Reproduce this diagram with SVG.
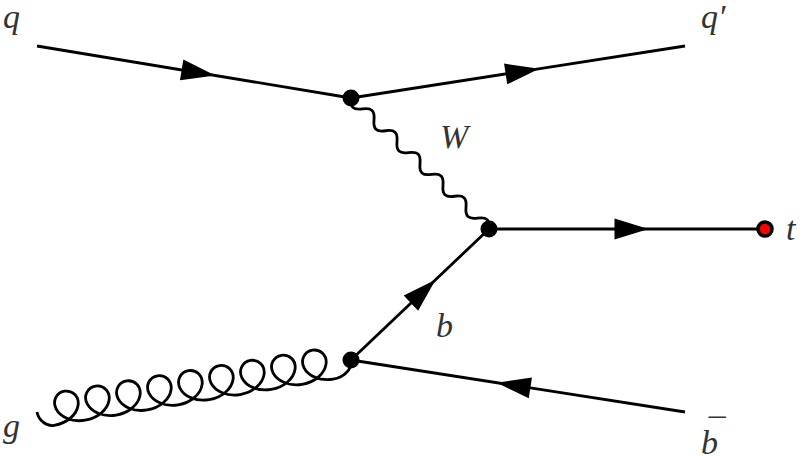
<svg xmlns="http://www.w3.org/2000/svg" xmlns:xlink="http://www.w3.org/1999/xlink" width="800" height="456" viewBox="0 0 800 456">
<defs>
<style>
.f{stroke:#000;stroke-width:2.8;fill:none;stroke-linecap:butt}
.w{stroke:#000;stroke-width:2.8;fill:none}
.v{fill:#000}
.lbl{font-family:'Liberation Serif','DejaVu Serif',serif;font-style:italic;font-size:34px;fill:#333}
</style>
<path id="arrow" d="M-12.5,-10.5 L21.5,0 L-12.5,10.5 Z" fill="#000"/>
</defs>
<rect width="800" height="456" fill="#fff"/>
<g id="connectors">
<line class="f" x1="37" y1="46" x2="351" y2="98"/>
<line class="f" x1="351" y1="98" x2="685" y2="46"/>
<line class="f" x1="489" y1="229" x2="765" y2="229"/>
<line class="f" x1="351" y1="360" x2="489" y2="229"/>
<line class="f" x1="685" y1="412" x2="351" y2="360"/>
<path class="w" transform="translate(351,98) rotate(43.51)" d="M0,0 c5.7,7.3 10.16,7.3 15.857,0 c5.7,-7.3 10.16,-7.3 15.857,0 c5.7,7.3 10.16,7.3 15.857,0 c5.7,-7.3 10.16,-7.3 15.857,0 c5.7,7.3 10.16,7.3 15.857,0 c5.7,-7.3 10.16,-7.3 15.857,0 c5.7,7.3 10.16,7.3 15.857,0 c5.7,-7.3 10.16,-7.3 15.857,0 c5.7,7.3 10.16,7.3 15.857,0 c5.7,-7.3 10.16,-7.3 15.857,0 c5.7,7.3 10.16,7.3 15.857,0 c5.7,-7.3 10.16,-7.3 15.857,0"/>
<path class="w" transform="translate(37,412) rotate(-9.403)" d="M0,0 c0,8 6.8,16 14.8,16 c13.26,0 24.094,-7.16 26.854,-16 c2.76,-8.84 -3.416,-16 -11.146,-16 c-7.730,0 -13.906,7.16 -11.146,16 c2.76,8.84 13.594,16 26.854,16 c13.26,0 24.094,-7.16 26.854,-16 c2.76,-8.84 -3.416,-16 -11.146,-16 c-7.73,0 -13.906,7.16 -11.146,16 c2.76,8.84 13.594,16 26.854,16 c13.26,0 24.094,-7.16 26.854,-16 c2.76,-8.84 -3.416,-16 -11.146,-16 c-7.73,0 -13.906,7.16 -11.146,16 c2.76,8.84 13.594,16 26.854,16 c13.26,0 24.094,-7.16 26.854,-16 c2.76,-8.84 -3.416,-16 -11.146,-16 c-7.73,0 -13.906,7.16 -11.146,16 c2.76,8.84 13.594,16 26.854,16 c13.26,0 24.094,-7.16 26.854,-16 c2.76,-8.84 -3.416,-16 -11.146,-16 c-7.73,0 -13.906,7.16 -11.146,16 c2.76,8.84 13.594,16 26.854,16 c13.26,0 24.094,-7.16 26.854,-16 c2.76,-8.84 -3.416,-16 -11.146,-16 c-7.73,0 -13.906,7.16 -11.146,16 c2.76,8.84 13.594,16 26.854,16 c13.26,0 24.094,-7.16 26.854,-16 c2.76,-8.84 -3.416,-16 -11.146,-16 c-7.73,0 -13.906,7.16 -11.146,16 c2.76,8.84 13.594,16 26.854,16 c13.26,0 24.094,-7.16 26.854,-16 c2.76,-8.84 -3.416,-16 -11.146,-16 c-7.73,0 -13.906,7.16 -11.146,16 c2.76,8.84 13.594,16 26.854,16 c13.26,0 24.094,-7.16 26.854,-16 c2.76,-8.84 -3.416,-16 -11.146,-16 c-7.73,0 -13.906,7.16 -11.146,16 c2.76,8.84 13.594,16 26.854,16 c11,0 20.74,-7 20.74,-16"/>
<use xlink:href="#arrow" href="#arrow" transform="translate(194,72) rotate(9.40)"/>
<use xlink:href="#arrow" href="#arrow" transform="translate(518,72) rotate(-8.85)"/>
<use xlink:href="#arrow" href="#arrow" transform="translate(627,229)"/>
<use xlink:href="#arrow" href="#arrow" transform="translate(420,294.5) rotate(-43.5)"/>
<use xlink:href="#arrow" href="#arrow" transform="translate(518,386) rotate(188.7)"/>
</g>
<g id="v1"><circle class="v" cx="351" cy="98" r="8.5"/></g>
<g id="v2"><circle class="v" cx="489" cy="229" r="8.5"/></g>
<g id="v3"><circle class="v" cx="351" cy="360" r="8.5"/></g>
<g id="n-q"><text class="lbl" x="3" y="28">q</text></g>
<g id="n-qp"><text class="lbl" x="701" y="28">q′</text></g>
<g id="n-W"><text class="lbl" x="440" y="148">W</text></g>
<g id="n-t"><circle cx="765" cy="229" r="7" fill="#ff0000" stroke="#000" stroke-width="3.5"/><text class="lbl" x="786" y="240">t</text></g>
<g id="n-b"><text class="lbl" x="436" y="337">b</text></g>
<g id="n-g"><text class="lbl" x="3" y="437">g</text></g>
<g id="n-bbar"><text class="lbl" x="701" y="454">b</text><text class="lbl" x="706" y="442">¯</text></g>
</svg>
